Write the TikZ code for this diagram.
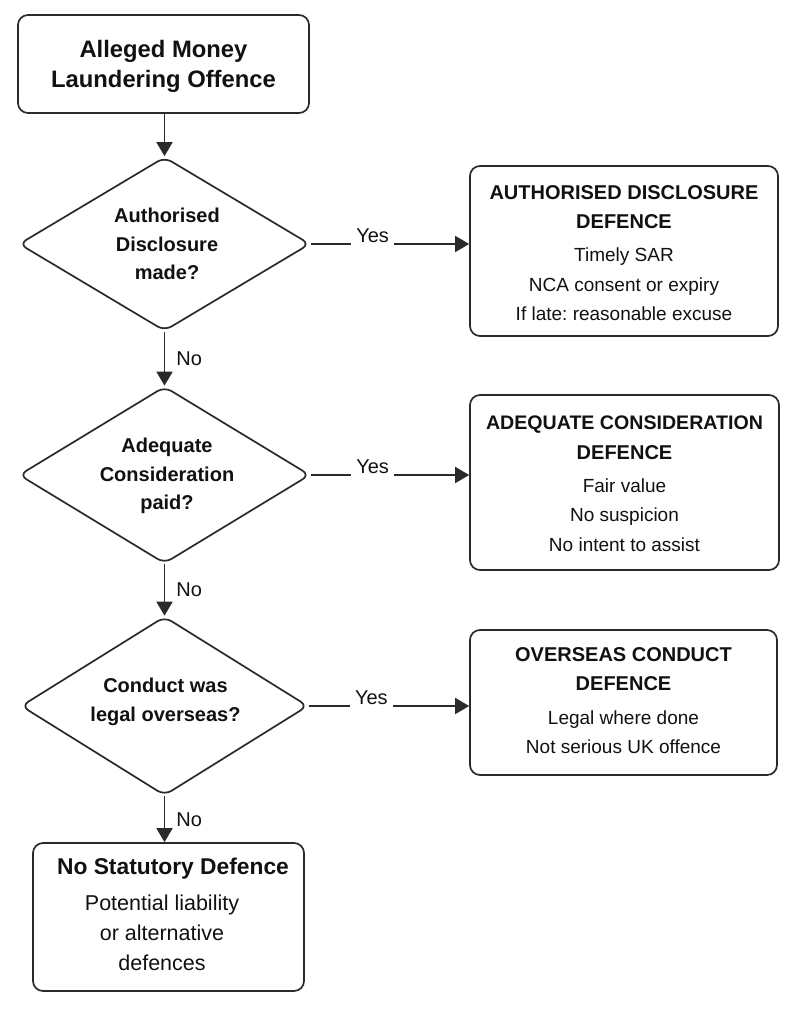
\documentclass[tikz,border=0pt]{standalone}
\usepackage{fontspec}
\setmainfont{Liberation Sans}
\usetikzlibrary{shapes.geometric,arrows.meta}
\definecolor{linec}{HTML}{2A2A2A}
\definecolor{textc}{HTML}{111111}
\frenchspacing
\begin{document}
\begin{tikzpicture}[x=1pt,y=-1pt,
  every node/.style={text=textc},
  box/.style={draw=linec, line width=1.7pt, rounded corners=10pt, fill=white, inner sep=0pt, align=center},
  dec/.style={draw=linec, line width=1.7pt, shape=diamond, aspect=1.66, inner sep=0pt, rounded corners=8pt, fill=white},
  dtext/.style={align=center, font=\fontsize{20}{28.5}\selectfont\bfseries},
  btext/.style={align=center, font=\fontsize{19}{29.5}\selectfont},
  arr/.style={draw=linec, line width=1.8pt, -{Triangle[length=14pt,width=16pt]}},
  yeslbl/.style={fill=white, inner xsep=5pt, inner ysep=4pt, yshift=8.5pt, font=\fontsize{20}{24}\selectfont},
  nolbl/.style={right=8pt, inner sep=3pt, font=\fontsize{20}{24}\selectfont}
]
\useasboundingbox[fill=white] (0,0) rectangle (796,1009);

% start box
\node[box, minimum width=291pt, minimum height=98pt] (start) at (163.5,64) {};
\node[align=center, font=\fontsize{23.8}{30}\selectfont\bfseries] (startt) at (163.5,66) {Alleged Money\\Laundering Offence};

% decisions
\node[dec, minimum width=291pt, minimum height=174pt] (q1) at (164.5,244) {};
\node[dtext] (q1t) at (167,244) {Authorised\\Disclosure\\made?};

\node[dec, minimum width=291pt, minimum height=177pt] (q2) at (164.5,475) {};
\node[dtext] (q2t) at (167,476) {Adequate\\Consideration\\paid?};

\node[dec, minimum width=287pt, minimum height=179pt] (q3) at (164.5,706) {};
\node[dtext] (q3t) at (165.5,702) {Conduct was\\legal overseas?};

% defence boxes
\node[box, minimum width=308pt, minimum height=170pt] (b1) at (624,251) {};
\node[btext] (b1t) at (624,253)
  {\textbf{\fontsize{20}{29.5}\selectfont AUTHORISED DISCLOSURE}\\\textbf{\fontsize{20}{29.5}\selectfont DEFENCE}\\[3.5pt]Timely SAR\\NCA consent or expiry\\If late: reasonable excuse};

\node[box, minimum width=309pt, minimum height=175pt] (b2) at (624.5,482.5) {};
\node[btext] (b2t) at (624.5,483.5)
  {\textbf{\fontsize{19.6}{29.5}\selectfont ADEQUATE CONSIDERATION}\\\textbf{\fontsize{20}{29.5}\selectfont DEFENCE}\\[3.5pt]Fair value\\No suspicion\\No intent to assist};

\node[box, minimum width=307pt, minimum height=145pt] (b3) at (623.5,702.5) {};
\node[btext] (b3t) at (623.5,700.5)
  {\textbf{\fontsize{20}{29.5}\selectfont OVERSEAS CONDUCT}\\\textbf{\fontsize{20}{29.5}\selectfont DEFENCE}\\[4pt]Legal where done\\Not serious UK offence};

% final box
\node[box, minimum width=271pt, minimum height=148pt] (fin) at (168.5,917) {};
\node[font=\fontsize{22.8}{26}\selectfont\bfseries] (fint) at (173,869) {No Statutory Defence};
\node[align=center, font=\fontsize{21.5}{30}\selectfont] (finb) at (162,933) {Potential liability\\or alternative\\defences};

% connectors
\draw[arr] (q1.north |- start.south) -- (q1.north);
\draw[arr] (q1.south) -- node[nolbl]{No} (q2.north);
\draw[arr] (q2.south) -- node[nolbl]{No} (q3.north);
\draw[arr] (q3.south) -- node[nolbl]{No} (q3.south |- fin.north);

\draw[arr] (q1.east) -- node[yeslbl, pos=0.39]{Yes} (q1.east -| b1.west);
\draw[arr] (q2.east) -- node[yeslbl, pos=0.39]{Yes} (q2.east -| b2.west);
\draw[arr] (q3.east) -- node[yeslbl, pos=0.39]{Yes} (q3.east -| b3.west);
\end{tikzpicture}
\end{document}
